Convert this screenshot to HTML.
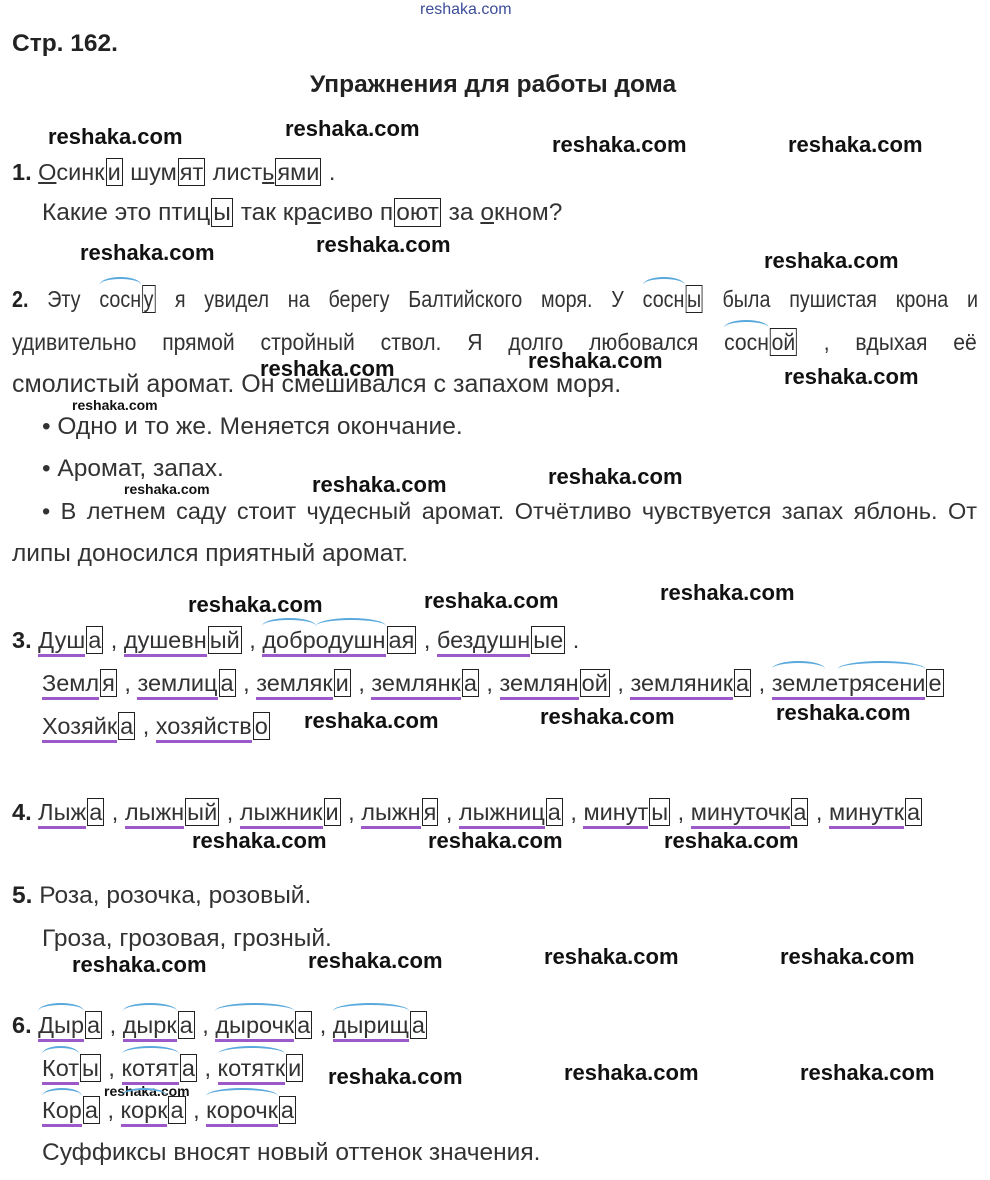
<!DOCTYPE html>
<html><head><meta charset="utf-8"><style>
body{margin:0;width:990px;height:1180px;background:#fff;position:relative;overflow:hidden;font-family:"Liberation Sans",Arial,sans-serif;color:#333;}
.l{position:absolute;white-space:nowrap;font-size:23.5px;line-height:26px;}
.p{font-size:24.5px;}
.w{position:absolute;font-weight:bold;font-size:22px;color:#111;white-space:nowrap;line-height:26px;}
.ws{position:absolute;font-weight:bold;font-size:14px;color:#111;white-space:nowrap;}
.b{border:1.5px solid #222;padding:0 1px;margin:0 1px;}
.u{border-bottom:3px solid #9b59c9;padding-bottom:1px;}
.j{text-align:justify;text-align-last:justify;}
.a{position:relative;}
.a::before{content:"";position:absolute;left:0;right:0;top:-9px;height:14px;border-top:2px solid #5aa9dd;border-radius:50% 50% 0 0;}
.s{transform-origin:0 0;}
b{color:#222}
</style></head><body>
<div style="position:absolute;left:420px;top:1px;font-size:16px;color:#3b4d9a;">reshaka.com</div>
<div class="l" style="left:12px;top:31px;font-weight:bold;color:#222;font-size:24.5px">Стр. 162.</div>
<div class="l" style="left:310px;top:72px;font-weight:bold;color:#222;font-size:24.5px">Упражнения для работы дома</div>

<div class="w" style="left:48px;top:124px">reshaka.com</div>
<div class="w" style="left:285px;top:116px">reshaka.com</div>
<div class="w" style="left:552px;top:132px">reshaka.com</div>
<div class="w" style="left:788px;top:132px">reshaka.com</div>

<div class="l" style="left:12px;top:159px"><b>1.</b> <u>О</u>синк<span class="b">и</span> шум<span class="b">ят</span> лист<u>ь</u><span class="b">ями</span> .</div>
<div class="l p" style="left:42px;top:200px">Какие это птиц<span class="b">ы</span> так кр<u>а</u>сиво п<span class="b">оют</span> за <u>о</u>кном?</div>

<div class="w" style="left:80px;top:240px">reshaka.com</div>
<div class="w" style="left:316px;top:232px">reshaka.com</div>
<div class="w" style="left:764px;top:248px">reshaka.com</div>

<div class="l j s" style="left:12px;top:286px;width:1150px;transform:scaleX(0.84)"><b>2.</b> Эту <span class="a">сосн</span><span class="b">у</span> я увидел на берегу Балтийского моря. У <span class="a">сосн</span><span class="b">ы</span> была пушистая крона и</div>
<div class="l j s" style="left:12px;top:329px;width:1072px;transform:scaleX(0.9)">удивительно прямой стройный ствол. Я долго любовался <span class="a">сосн</span><span class="b">ой</span> , вдыхая её</div>
<div class="l" style="left:12px;top:371px;font-size:25px">смолистый аромат. Он смешивался с запахом моря.</div>
<div class="w" style="left:260px;top:356px">reshaka.com</div>
<div class="w" style="left:528px;top:348px">reshaka.com</div>
<div class="w" style="left:784px;top:364px">reshaka.com</div>
<div class="ws" style="left:72px;top:397px">reshaka.com</div>

<div class="l p" style="left:42px;top:414px">• Одно и то же. Меняется окончание.</div>
<div class="l p" style="left:42px;top:456px">• Аромат, запах.</div>
<div class="ws" style="left:124px;top:481px">reshaka.com</div>
<div class="w" style="left:312px;top:472px">reshaka.com</div>
<div class="w" style="left:548px;top:464px">reshaka.com</div>
<div class="l j" style="left:42px;top:498px;width:935px">• В летнем саду стоит чудесный аромат. Отчётливо чувствуется запах яблонь. От</div>
<div class="l p" style="left:12px;top:541px">липы доносился приятный аромат.</div>

<div class="w" style="left:188px;top:592px">reshaka.com</div>
<div class="w" style="left:424px;top:588px">reshaka.com</div>
<div class="w" style="left:660px;top:580px">reshaka.com</div>

<div class="l" style="left:12px;top:627px"><b>3.</b> <span class="u">Душ</span><span class="b">а</span> , <span class="u">душевн</span><span class="b">ый</span> , <span class="u"><span class="a">добр</span><span class="a">одушн</span></span><span class="b">ая</span> , <span class="u">бездушн</span><span class="b">ые</span> .</div>
<div class="l" style="left:42px;top:670px"><span class="u">Земл</span><span class="b">я</span> , <span class="u">землиц</span><span class="b">а</span> , <span class="u">земляк</span><span class="b">и</span> , <span class="u">землянк</span><span class="b">а</span> , <span class="u">землян</span><span class="b">ой</span> , <span class="u">земляник</span><span class="b">а</span> , <span class="u"><span class="a">земл</span>е<span class="a">трясени</span></span><span class="b">е</span></div>
<div class="l" style="left:42px;top:713px"><span class="u">Хозяйк</span><span class="b">а</span> , <span class="u">хозяйств</span><span class="b">о</span></div>
<div class="w" style="left:304px;top:708px">reshaka.com</div>
<div class="w" style="left:540px;top:704px">reshaka.com</div>
<div class="w" style="left:776px;top:700px">reshaka.com</div>

<div class="l" style="left:12px;top:799px"><b>4.</b> <span class="u">Лыж</span><span class="b">а</span> , <span class="u">лыжн</span><span class="b">ый</span> , <span class="u">лыжник</span><span class="b">и</span> , <span class="u">лыжн</span><span class="b">я</span> , <span class="u">лыжниц</span><span class="b">а</span> , <span class="u">минут</span><span class="b">ы</span> , <span class="u">минуточк</span><span class="b">а</span> , <span class="u">минутк</span><span class="b">а</span></div>
<div class="w" style="left:192px;top:828px">reshaka.com</div>
<div class="w" style="left:428px;top:828px">reshaka.com</div>
<div class="w" style="left:664px;top:828px">reshaka.com</div>

<div class="l p" style="left:12px;top:883px"><b>5.</b> Роза, розочка, розовый.</div>
<div class="l p" style="left:42px;top:926px">Гроза, грозовая, грозный.</div>
<div class="w" style="left:72px;top:952px">reshaka.com</div>
<div class="w" style="left:308px;top:948px">reshaka.com</div>
<div class="w" style="left:544px;top:944px">reshaka.com</div>
<div class="w" style="left:780px;top:944px">reshaka.com</div>

<div class="l" style="left:12px;top:1012px"><b>6.</b> <span class="u a">Дыр</span><span class="b">а</span> , <span class="u a">дырк</span><span class="b">а</span> , <span class="u a">дырочк</span><span class="b">а</span> , <span class="u a">дырищ</span><span class="b">а</span></div>
<div class="l" style="left:42px;top:1055px"><span class="u a">Кот</span><span class="b">ы</span> , <span class="u a">котят</span><span class="b">а</span> , <span class="u a">котятк</span><span class="b">и</span></div>
<div class="ws" style="left:104px;top:1083px">reshaka.com</div>
<div class="l" style="left:42px;top:1097px"><span class="u a">Кор</span><span class="b">а</span> , <span class="u a">корк</span><span class="b">а</span> , <span class="u a">корочк</span><span class="b">а</span></div>
<div class="w" style="left:328px;top:1064px">reshaka.com</div>
<div class="w" style="left:564px;top:1060px">reshaka.com</div>
<div class="w" style="left:800px;top:1060px">reshaka.com</div>
<div class="l p" style="left:42px;top:1140px">Суффиксы вносят новый оттенок значения.</div>
</body></html>
